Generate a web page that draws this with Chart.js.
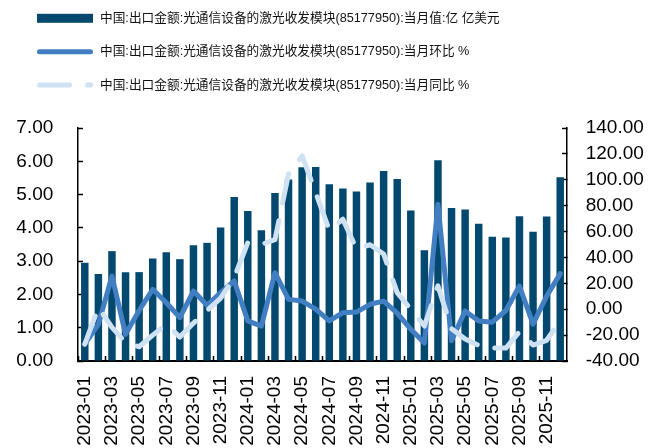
<!DOCTYPE html>
<html>
<head>
<meta charset="utf-8">
<script src="https://cdn.jsdelivr.net/npm/chart.js@4.4.1/dist/chart.umd.min.js"></script>
<style>
html,body{margin:0;padding:0;background:#fff;}
#wrap{width:662px;height:448px;position:relative;}
</style>
</head>
<body>
<div id="wrap"><canvas id="c" width="662" height="448"></canvas></div>
<script>
// ---- data ----
const categories = [
  '2023-01','2023-02','2023-03','2023-04','2023-05','2023-06','2023-07','2023-08','2023-09','2023-10','2023-11','2023-12',
  '2024-01','2024-02','2024-03','2024-04','2024-05','2024-06','2024-07','2024-08','2024-09','2024-10','2024-11','2024-12',
  '2025-01','2025-02','2025-03','2025-04','2025-05','2025-06','2025-07','2025-08','2025-09','2025-10','2025-11','2025-12'
];
const exportValue = [
  2.95, 2.61, 3.30, 2.67, 2.67, 3.08, 3.27, 3.06, 3.48, 3.55, 4.01, 4.93,
  4.51, 3.93, 5.05, 5.45, 5.82, 5.83, 5.31, 5.18, 5.09, 5.36, 5.71, 5.47,
  4.52, 3.33, 6.03, 4.60, 4.55, 4.12, 3.73, 3.71, 4.35, 3.88, 4.34, 5.52
];
const momPct = [
  -27.0, -11.7, 25.7, -19.4, -1.0, 15.4, 5.0, -6.5, 14.0, 3.0, 12.8, 21.8,
  -9.0, -13.0, 28.2, 7.6, 6.3, 0.0, -9.0, -2.7, -2.2, 3.8, 6.3, -3.0,
  -15.5, -26.0, 81.0, -24.3, -1.3, -9.1, -10.0, -1.0, 17.9, -11.5, 10.0, 27.5
];
const yoyPct = [
  -27.0, 1.5, -14.0, -25.7, -29.0, -20.0, -11.7, -21.5, -10.7, -1.0, 8.6, 24.3,
  51.5, 50.0, 53.7, 104.5, 118.4, 90.0, 61.0, 69.5, 46.5, 49.8, 42.7, 12.8,
  0.0, -13.0, 18.0, -15.0, -23.0, -28.0, -30.0, -30.0, -17.4, -27.7, -24.0, -9.0
];
const seriesNames = [
  '中国:出口金额:光通信设备的激光收发模块(85177950):当月值:亿 亿美元',
  '中国:出口金额:光通信设备的激光收发模块(85177950):当月环比 %',
  '中国:出口金额:光通信设备的激光收发模块(85177950):当月同比 %'
];

// ---- styles ----
const BAR = '#03496f';
const MOM = '#427fc2';
const YOY = '#cfe2f3';
const TICK_FONT = { family: '"Liberation Sans", Arial, sans-serif', size: 19 };

const stackLegend = {
  id: 'stackLegend',
  afterDraw(chart) {
    const ctx = chart.ctx;
    const rowY = [18.3, 51.7, 85];
    const x0 = 37, x1 = 93, tx = 100;
    ctx.save();
    chart.data.datasets.forEach((ds, i) => {
      const y = rowY[i];
      if (ds.type === 'bar') {
        ctx.fillStyle = ds.backgroundColor;
        ctx.fillRect(x0, y - 4.5, x1 - x0, 9);
      } else {
        const w = ds.borderWidth;
        ctx.strokeStyle = ds.borderColor;
        ctx.lineWidth = w;
        ctx.lineCap = 'round';
        ctx.setLineDash(ds.borderDash || []);
        ctx.beginPath();
        ctx.moveTo(x0 + w / 2, y);
        ctx.lineTo(x1 - w / 2, y);
        ctx.stroke();
        ctx.setLineDash([]);
      }
      ctx.fillStyle = '#111';
      ctx.font = '12.7px "Liberation Sans", "Noto Sans CJK SC", sans-serif';
      ctx.textBaseline = 'middle';
      ctx.textAlign = 'left';
      ctx.fillText(ds.label, tx, y);
    });
    ctx.restore();
  }
};

new Chart(document.getElementById('c'), {
  type: 'bar',
  data: {
    labels: categories,
    datasets: [
      {
        type: 'bar', label: seriesNames[0], data: exportValue,
        backgroundColor: BAR, yAxisID: 'y', order: 3,
        barPercentage: 0.55, categoryPercentage: 1
      },
      {
        type: 'line', label: seriesNames[1], data: momPct,
        borderColor: MOM, borderWidth: 5, pointRadius: 0, tension: 0,
        borderCapStyle: 'round', borderJoinStyle: 'round',
        yAxisID: 'y1', order: 2
      },
      {
        type: 'line', label: seriesNames[2], data: yoyPct,
        borderColor: YOY, borderWidth: 5, pointRadius: 0, tension: 0,
        borderDash: [30, 18], borderCapStyle: 'round', borderJoinStyle: 'round',
        yAxisID: 'y1', order: 1
      }
    ]
  },
  options: {
    responsive: false,
    animation: false,
    devicePixelRatio: 1,
    layout: { padding: { top: 128, left: 16, right: 18, bottom: 1 } },
    plugins: { legend: { display: false }, tooltip: { enabled: false } },
    scales: {
      x: {
        offset: true,
        afterFit: (s) => { s.height = 86; },
        grid: {
          offset: true, drawOnChartArea: false, tickLength: -5, tickWidth: 1.5,
          tickColor: (c) => (c.index % 2 === 0 ? '#000' : 'rgba(0,0,0,0)')
        },
        border: { color: '#000', width: 2 },
        ticks: {
          autoSkip: false, maxRotation: 90, minRotation: 90, padding: 20,
          color: '#000', font: TICK_FONT,
          callback: function (v, i) { return i % 2 === 0 ? this.getLabelForValue(v) : ''; }
        }
      },
      y: {
        position: 'left', min: 0, max: 7,
        afterFit: (s) => { s.width = 62; },
        grid: { drawOnChartArea: false, tickLength: -5, tickColor: '#000', tickWidth: 1.5 },
        border: { color: '#000', width: 1.5 },
        ticks: { autoSkip: false, stepSize: 1, padding: 29.7, color: '#000', font: TICK_FONT, callback: (v) => v.toFixed(2) }
      },
      y1: {
        position: 'right', min: -40, max: 140,
        afterFit: (s) => { s.width = 77; },
        grid: { drawOnChartArea: false, tickLength: -5, tickColor: '#000', tickWidth: 1.5 },
        border: { color: '#000', width: 1.5 },
        ticks: { autoSkip: false, stepSize: 20, padding: 23.7, color: '#000', font: TICK_FONT, callback: (v) => v.toFixed(2) }
      }
    }
  },
  plugins: [stackLegend]
});
</script>
</body>
</html>
